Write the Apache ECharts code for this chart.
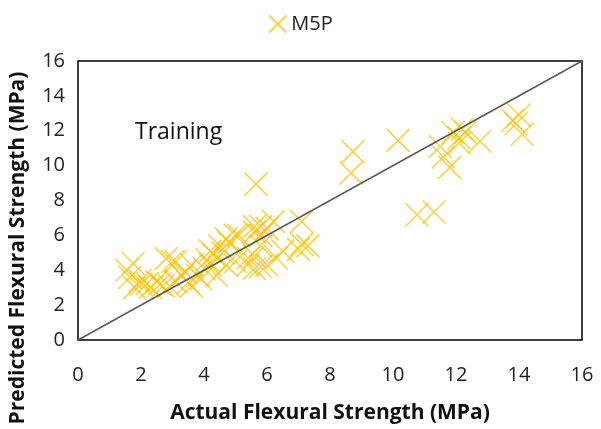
<!DOCTYPE html>
<html>
<head>
<meta charset="utf-8">
<script src="https://cdn.jsdelivr.net/npm/echarts@6/dist/echarts.min.js"></script>
<style>
  html, body { margin: 0; padding: 0; background: #fff; }
  #chart { width: 601px; height: 429px; }
</style>
</head>
<body>
<div id="chart"></div>
<script>
// actual vs predicted flexural strength (MPa), training set
const actual = [
  1.75, 1.55, 1.65, 1.97, 2.2, 2.5, 2.8, 3.0, 2.7, 2.9, 3.1,
  3.1, 3.6, 4.0, 4.2, 4.5, 4.7, 4.8, 5.0, 3.3, 3.8, 3.6, 4.4, 4.2, 4.7, 5.0, 5.4, 5.6, 5.8, 6.0, 5.6, 5.8,
  5.65, 6.2, 7.1, 5.8, 7.1, 7.3, 7.0, 6.5, 6.3, 6.0, 5.8, 5.6, 5.4, 5.1, 5.6,
  2.3, 2.6, 3.4, 3.9, 4.1, 4.3, 4.6, 3.5, 2.0, 1.8,
  8.73, 8.67, 10.16, 10.76, 11.3, 11.5, 11.6, 11.8, 11.9, 12.1, 12.2, 12.3, 12.76,
  13.8, 14.0, 14.1, 13.9, 12.1
];
const predicted = [
  4.4, 4.0, 3.6, 3.4, 3.25, 3.35, 4.67, 4.5, 3.1, 3.1, 3.35,
  4.5, 4.3, 4.1, 5.1, 5.4, 5.8, 5.6, 6.0, 3.7, 3.7, 3.1, 3.7, 4.3, 4.3, 4.5, 4.3, 4.8, 5.4, 6.4, 6.5, 6.0,
  8.94, 6.8, 6.8, 6.5, 5.5, 5.4, 5.2, 5.1, 4.7, 4.3, 4.2, 4.1, 4.7, 6.0, 6.2,
  3.0, 3.2, 3.9, 3.5, 4.6, 4.9, 5.0, 3.3, 3.2, 3.0,
  10.8, 9.57, 11.45, 7.18, 7.34, 11.1, 10.5, 9.9, 11.9, 11.6, 12.1, 11.9, 11.4,
  12.6, 12.9, 11.8, 12.4, 11.3
];
const lineX = [0, 16];
const lineY = [0, 16];
const ticks = [0, 2, 4, 6, 8, 10, 12, 14, 16];

const crossPath = 'path://M0,0L10,10M10,0L0,10';
const gold = '#FFC000';
const font = '"Open Sans", "Noto Sans", sans-serif';

const chart = echarts.init(document.getElementById('chart'));
chart.setOption({
  animation: false,
  legend: {
    top: 9,
    left: 'center',
    data: [{ name: 'M5P', icon: crossPath }],
    itemWidth: 17,
    itemHeight: 17,
    itemGap: 4,
    textStyle: { fontSize: 20, color: '#222', fontFamily: font }
  },
  grid: {
    left: 78, right: 19, top: 61, bottom: 87,
    show: true, borderColor: '#000', borderWidth: 1.5
  },
  xAxis: {
    type: 'value', min: ticks[0], max: ticks[ticks.length - 1], interval: 2,
    name: 'Actual Flexural Strength (MPa)',
    nameLocation: 'middle', nameGap: 63,
    nameTextStyle: { fontSize: 21, fontWeight: 'bold', color: '#111', fontFamily: font },
    axisLine: { show: false }, axisTick: { show: false }, splitLine: { show: false },
    axisLabel: { fontSize: 20, color: '#222', margin: 25, fontFamily: font }
  },
  yAxis: {
    type: 'value', min: ticks[0], max: ticks[ticks.length - 1], interval: 2,
    axisLine: { show: false }, axisTick: { show: false }, splitLine: { show: false },
    axisLabel: { fontSize: 20, color: '#222', margin: 13, fontFamily: font }
  },
  graphic: [
    {
      type: 'text', left: 135, top: 121,
      style: { text: 'Training', fontSize: 23, fill: '#111', fontFamily: font }
    },
    {
      type: 'text', x: 18, y: 248, rotation: Math.PI / 2,
      style: {
        text: 'Predicted Flexural Strength (MPa)', fontSize: 21, fontWeight: 'bold',
        fill: '#111', fontFamily: font, align: 'center', verticalAlign: 'middle'
      }
    }
  ],
  series: [
    {
      name: 'M5P',
      type: 'scatter',
      symbol: crossPath,
      symbolSize: 23,
      itemStyle: { color: 'rgba(0,0,0,0)', borderColor: gold, borderWidth: 1.6, opacity: 0.72 },
      data: actual.map((x, i) => [x, predicted[i]]),
      z: 3
    },
    {
      name: 'line',
      type: 'line',
      symbol: 'none',
      lineStyle: { color: '#595959', width: 1.5 },
      data: lineX.map((x, i) => [x, lineY[i]]),
      z: 4
    }
  ]
});
</script>
</body>
</html>
